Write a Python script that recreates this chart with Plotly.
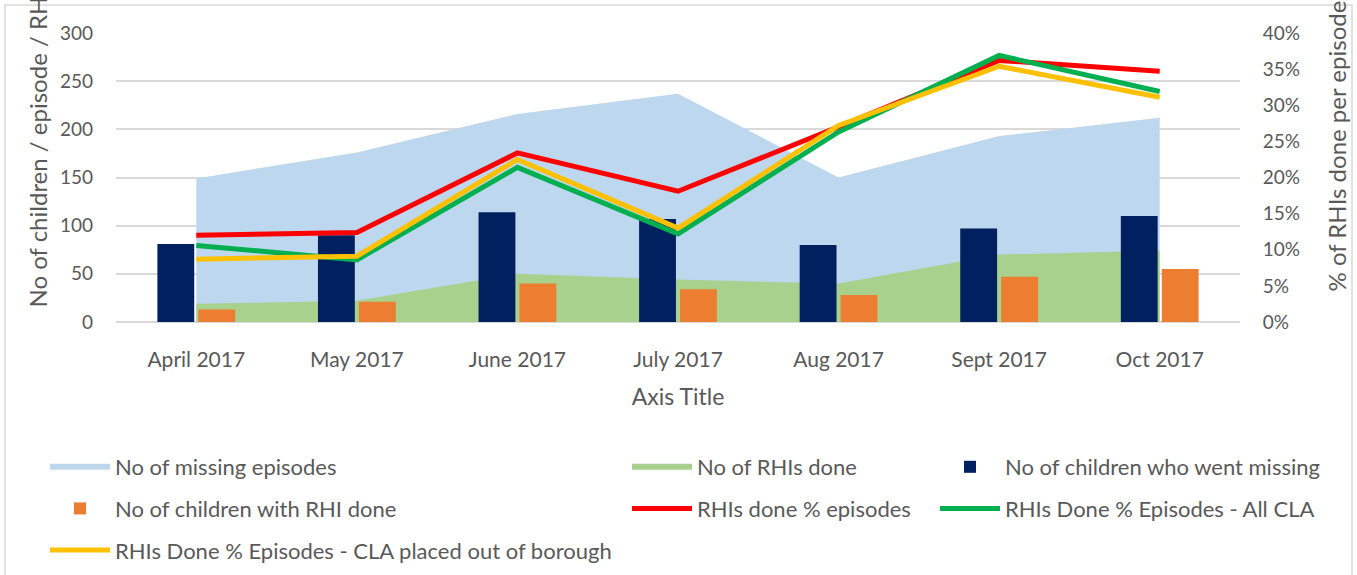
import plotly.graph_objects as go

categories = ["April 2017", "May 2017", "June 2017", "July 2017", "Aug 2017", "Sept 2017", "Oct 2017"]
missing_episodes = [149, 176, 216, 237, 150, 193, 212]
rhis_done = [19, 22, 50, 44, 40, 70, 74]
children_missing = [81, 90, 114, 107, 80, 97, 110]
children_rhi = [13, 21, 40, 34, 28, 47, 55]
pct_episodes = [12.0, 12.4, 23.4, 18.1, 27.0, 36.2, 34.7]
pct_all_cla = [10.6, 8.6, 21.4, 12.2, 26.3, 36.9, 31.9]
pct_out_borough = [8.7, 9.1, 22.5, 13.0, 27.2, 35.4, 31.1]

FONT = "Lato"
GREY = "#595959"
GRID = "#d9d9d9"

W, H = 1357, 575
L, R, T, B = 116, 117, 33, 253
PW = W - L - R
PH = H - T - B


def px_x(px):
    return (px - L) / PW


def px_y(py):
    return (H - B - py) / PH


fig = go.Figure()

# areas (primary y)
fig.add_trace(go.Scatter(x=categories, y=missing_episodes, name="No of missing episodes",
                         mode="none", fill="tozeroy", fillcolor="#BDD7EE",
                         legend="legend", legendgroup="a1", yaxis="y"))
fig.add_trace(go.Scatter(x=categories, y=rhis_done, name="No of RHIs done",
                         mode="none", fill="tozeroy", fillcolor="#A9D18E",
                         legend="legend2", legendgroup="b1", yaxis="y"))

# bars (overlay y2)
fig.add_trace(go.Bar(x=categories, y=children_missing, name="No of children who went missing",
                     marker=dict(color="#002060", line=dict(width=0)),
                     legend="legend3", legendgroup="c1", yaxis="y2"))
fig.add_trace(go.Bar(x=categories, y=children_rhi, name="No of children with RHI done",
                     marker=dict(color="#ED7D31", line=dict(width=0)),
                     legend="legend", legendgroup="a2", yaxis="y2"))

# lines (overlay y3, right axis)
fig.add_trace(go.Scatter(x=categories, y=[v / 100 for v in pct_episodes], name="RHIs done % episodes",
                         mode="lines", line=dict(color="#FF0000", width=5),
                         legend="legend2", legendgroup="b2", yaxis="y3"))
fig.add_trace(go.Scatter(x=categories, y=[v / 100 for v in pct_all_cla], name="RHIs Done % Episodes - All CLA",
                         mode="lines", line=dict(color="#00B050", width=5),
                         legend="legend3", legendgroup="c2", yaxis="y3"))
fig.add_trace(go.Scatter(x=categories, y=[v / 100 for v in pct_out_borough],
                         name="RHIs Done % Episodes - CLA placed out of borough",
                         mode="lines", line=dict(color="#FFC000", width=5),
                         legend="legend", legendgroup="a3", yaxis="y3"))

legend_common = dict(orientation="v", font=dict(family=FONT, size=22, color=GREY),
                     bgcolor="rgba(0,0,0,0)", traceorder="grouped", tracegroupgap=10,
                     xanchor="left", yanchor="top", itemwidth=60)

fig.update_layout(
    width=W, height=H,
    margin=dict(l=L, r=R, t=T, b=B, autoexpand=False),
    paper_bgcolor="white", plot_bgcolor="white",
    font=dict(family=FONT, size=19, color=GREY),
    barmode="group", bargap=0.49, bargroupgap=0.1,
    showlegend=True,
    xaxis=dict(type="category", range=[-0.5, 6.5], showgrid=False, zeroline=False,
               showline=False, ticks="", ticklabelstandoff=23,
               tickfont=dict(family=FONT, size=21, color=GREY),
               title=dict(text="Axis Title", font=dict(family=FONT, size=23, color=GREY), standoff=18)),
    yaxis=dict(range=[0, 300], dtick=50, showgrid=True, gridcolor=GRID, gridwidth=1.5,
               zeroline=True, zerolinecolor=GRID, zerolinewidth=1.5, showline=False,
               ticks="", ticklabelstandoff=22,
               tickfont=dict(family=FONT, size=19, color=GREY)),
    yaxis2=dict(range=[0, 300], overlaying="y", visible=False),
    yaxis3=dict(range=[0, 0.4], overlaying="y", side="right", showgrid=False, zeroline=False,
                tickformat=".0%", dtick=0.05, ticks="outside", ticklen=18,
                tickcolor="rgba(0,0,0,0)",
                tickfont=dict(family=FONT, size=19, color=GREY)),
    legend=dict(x=px_x(45), y=px_y(446), **legend_common),
    legend2=dict(x=px_x(627), y=px_y(446), **legend_common),
    legend3=dict(x=px_x(935), y=px_y(446), **legend_common),
    shapes=[dict(type="rect", xref="paper", yref="paper", layer="below",
                 x0=px_x(5), x1=px_x(1352), y0=px_y(590), y1=px_y(5),
                 line=dict(color=GRID, width=1.5), fillcolor="rgba(0,0,0,0)")],
    annotations=[
        dict(text="No of children / episode / RHIs done", textangle=-90, showarrow=False,
             xref="paper", yref="paper", x=px_x(37), y=px_y(310), xanchor="center", yanchor="bottom",
             font=dict(family=FONT, size=24, color=GREY)),
        dict(text="% of RHIs done per episode", textangle=-90, showarrow=False,
             xref="paper", yref="paper", x=px_x(1336), y=px_y(294), xanchor="center", yanchor="bottom",
             font=dict(family=FONT, size=24, color=GREY)),
    ],
)

fig.write_html("out.html", config={"displayModeBar": False},
               post_script="document.body.style.margin='0';document.body.style.padding='0';")
